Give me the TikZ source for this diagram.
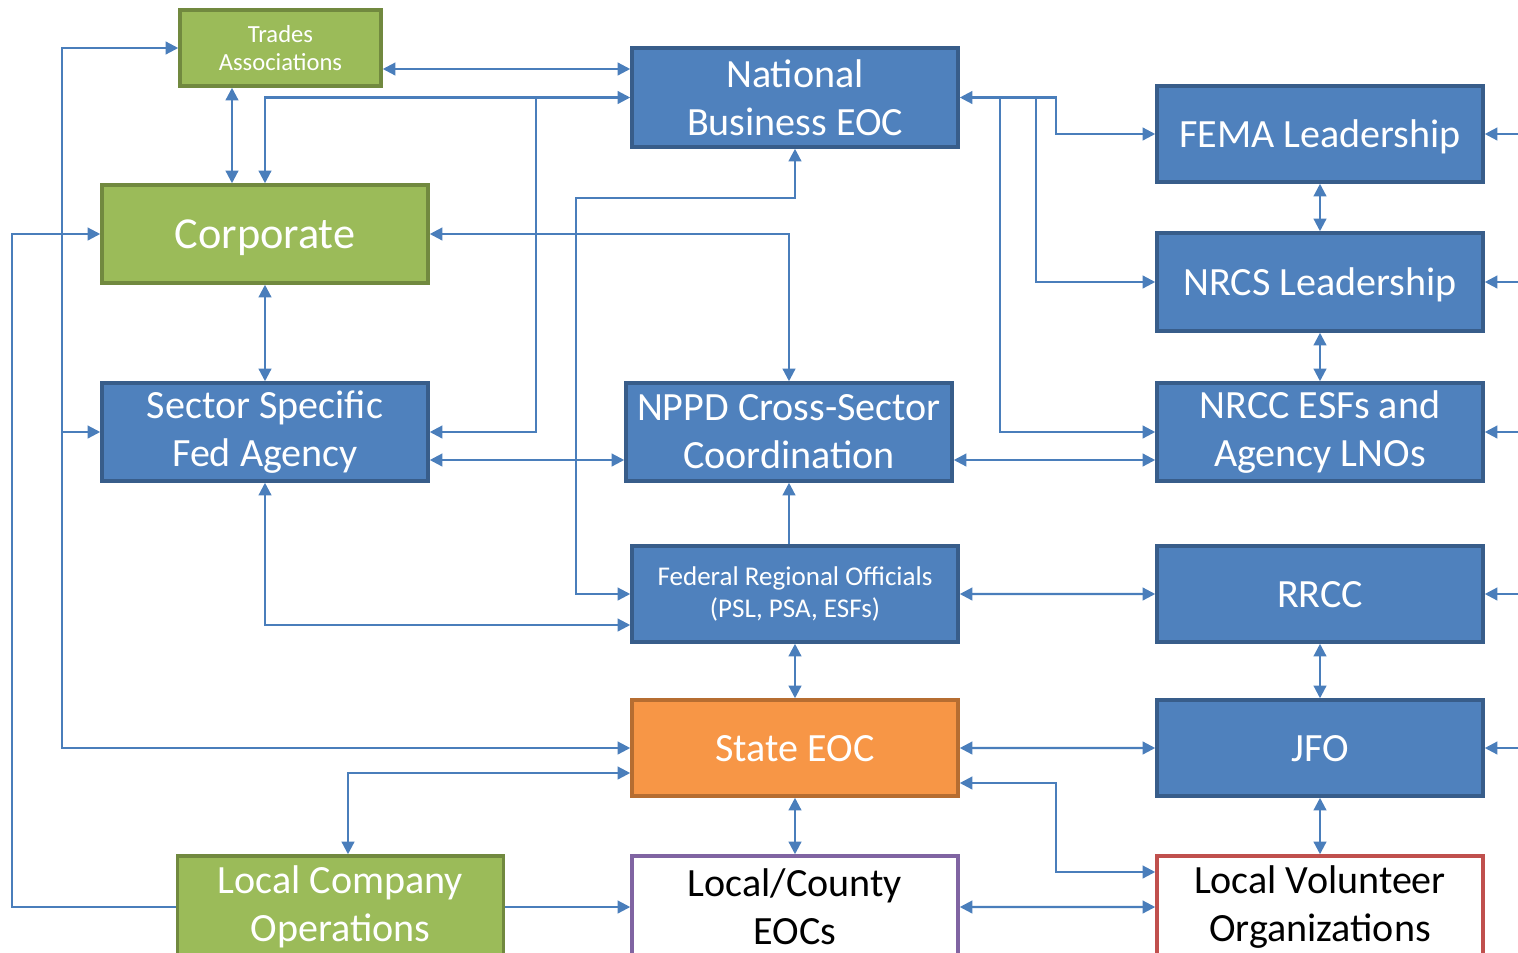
\documentclass[tikz,border=0pt]{standalone}
\usepackage{fontspec}
\setmainfont{Carlito}
\usetikzlibrary{arrows.meta}
\definecolor{fedblue}{HTML}{4F81BD}
\definecolor{fedblueedge}{HTML}{385D8A}
\definecolor{corpgreen}{HTML}{9BBB59}
\definecolor{corpgreenedge}{HTML}{71893F}
\definecolor{stateorange}{HTML}{F79646}
\definecolor{stateorangeedge}{HTML}{B66D31}
\definecolor{localpurple}{HTML}{8064A2}
\definecolor{localred}{HTML}{C0504D}
\definecolor{linkblue}{HTML}{4A7EBB}
\def\boxfont{\fontsize{11.4}{13.6}\selectfont}
\def\corpfont{\fontsize{12.6}{15}\selectfont}
\def\tradesfont{\fontsize{7}{8.2}\selectfont}
\def\frofont{\fontsize{7.7}{9.1}\selectfont}

\begin{document}
\begin{tikzpicture}[>={Triangle[length=3.6pt,width=3.6pt]},
    orgbox/.style={draw,line width=1pt,minimum width=3.26cm,minimum height=0.98cm,inner sep=0pt,align=center,text=white,font=\boxfont},
    oneline/.style={text height=7.4pt,text depth=0pt},
    fedbox/.style={orgbox,fill=fedblue,draw=fedblueedge},
    greenbox/.style={orgbox,fill=corpgreen,draw=corpgreenedge},
    statebox/.style={orgbox,fill=stateorange,draw=stateorangeedge},
    localbox/.style={orgbox,fill=white,text=black},
    link/.style={draw=linkblue,line width=0.65pt}]

    \useasboundingbox (0,0) rectangle (15.18,-9.52);

    % left column
    \node[greenbox,minimum width=2.01cm,minimum height=0.76cm,font=\tradesfont] (trades) at (2.805,-0.48) {Trades\\Associations};
    \node[greenbox,font=\corpfont,text height=8.2pt,text depth=0pt] (corp) at (2.65,-2.34) {Corporate};
    \node[fedbox,below of=corp,node distance=1.98cm] (ssfa) {Sector Specific\\Fed Agency};
    \node[greenbox,minimum height=1.02cm] (lco) at (3.405,-9.07) {Local Company\\Operations};

    % middle column
    \node[fedbox,minimum height=0.99cm] (nbeoc) at (7.95,-0.975) {National\\Business EOC};
    \node[fedbox] (nppd) at (7.89,-4.32) {NPPD Cross-Sector\\Coordination};
    \node[fedbox,minimum height=0.96cm,font=\frofont] (fro) at (7.95,-5.94) {Federal Regional Officials\\(PSL, PSA, ESFs)};
    \node[statebox,oneline,minimum height=0.96cm,below of=fro,node distance=1.54cm] (state) {State EOC};
    \node[localbox,draw=localpurple,minimum height=1.02cm,below of=state,node distance=1.59cm] (lce) {Local/County\\EOCs};

    % right column
    \node[fedbox,oneline,minimum height=0.96cm] (fema) at (13.2,-1.34) {FEMA Leadership};
    \node[fedbox,oneline,below of=fema,node distance=1.48cm] (nrcs) {NRCS Leadership};
    \node[fedbox,below of=nrcs,node distance=1.5cm] (nrcc) {NRCC ESFs and\\Agency LNOs};
    \node[fedbox,oneline,minimum height=0.96cm,below of=nrcc,node distance=1.62cm] (rrcc) {RRCC};
    \node[fedbox,oneline,minimum height=0.96cm,below of=rrcc,node distance=1.54cm] (jfo) {JFO};
    \node[localbox,draw=localred,minimum height=1.02cm,below of=jfo,node distance=1.59cm] (lvo) {Local Volunteer\\Organizations};

    % bus lines
    \coordinate (outerbus) at (0.12,0);
    \coordinate (westbus) at (0.62,0);
    \coordinate (midbus) at (5.36,0);
    \coordinate (frobus) at (5.76,-1.98);
    \coordinate (eastbusb) at (10.0,0);
    \coordinate (eastbusa) at (10.36,0);

    \draw[link,<->] ([yshift=-0.21cm]trades.east) -- ([yshift=-0.21cm]trades.east -| nbeoc.west);
    \draw[link,<->] (trades.west) -| (westbus |- ssfa.west) |- (state.west);
    \draw[link,->] (westbus |- ssfa.west) -- (ssfa.west);
    \draw[link,->] (lco.west) -| (outerbus |- corp.west) -- (corp.west);
    \draw[link,->] (lco.east) -- (lco.east -| lce.west);
    \draw[link,<->] ([xshift=-0.485cm]trades.south) -- ([xshift=-0.485cm]trades.south |- corp.north);
    \draw[link,<->] (corp.north) |- (nbeoc.west);
    \draw[link,->] (midbus |- nbeoc.west) |- (ssfa.east);
    \draw[link,<->] (corp.south) -- (ssfa.north);
    \draw[link,<->] (corp.east) -| (nppd.north);
    \draw[link,<->] (nbeoc.south) |- (frobus) |- (fro.west);
    \draw[link,<->] ([yshift=-0.28cm]ssfa.east) -- ([yshift=-0.28cm]ssfa.east -| nppd.west);
    \draw[link,<->] (ssfa.south) |- ([yshift=-0.31cm]fro.west);
    \draw[link,<-] (nppd.south) -- (nppd.south |- fro.north);
    \draw[link,<->] (nbeoc.east) -| ([xshift=-0.99cm]fema.west) -- (fema.west);
    \draw[link,->] (eastbusa |- nbeoc.east) |- (nrcs.west);
    \draw[link,->] (eastbusb |- nbeoc.east) |- (nrcc.west);
    \draw[link,<->] ([yshift=-0.28cm]nppd.east) -- ([yshift=-0.28cm]nppd.east -| nrcc.west);
    \draw[link,<->] (fro.east) -- (rrcc.west);
    \draw[link,<->] (fro.south) -- (state.north);
    \draw[link,<->] (state.east) -- (jfo.west);
    \draw[link,<->] (state.south) -- (lce.north);
    \draw[link,<->] ([yshift=-0.35cm]state.east) -| ([xshift=-0.99cm,yshift=0.35cm]lvo.west) -- ([yshift=0.35cm]lvo.west);
    \draw[link,<->] (lce.east) -- (lvo.west);
    \draw[link,<->] ([yshift=-0.25cm]state.west) -| ([xshift=0.075cm]lco.north);

    % right column links
    \foreach \a/\b in {fema/nrcs,nrcs/nrcc,rrcc/jfo,jfo/lvo}
        \draw[link,<->] (\a.south) -- (\b.north);
    \foreach \n in {fema,nrcs,nrcc,rrcc,jfo}
        \draw[link,<-] (\n.east) -- ++(0.5,0);

\end{tikzpicture}
\end{document}
